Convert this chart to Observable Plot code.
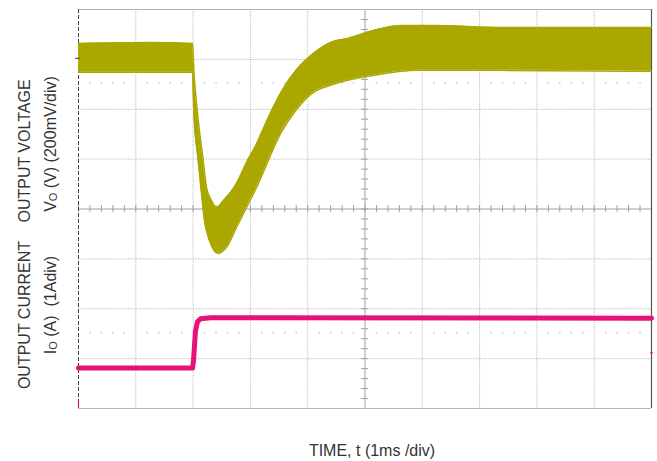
<!DOCTYPE html>
<html>
<head>
<meta charset="utf-8">
<script src="https://cdn.jsdelivr.net/npm/d3@7"></script>
<script src="https://cdn.jsdelivr.net/npm/@observablehq/plot@0.6"></script>
<style>
  html, body { margin: 0; padding: 0; background: #fff; }
  #chart { width: 657px; height: 461px; }
</style>
</head>
<body>
<div id="chart"></div>
<script>
// Time in divisions (1 ms/div), amplitude in screen divisions (-4..4)
const voltUpperTime = [0, 1.26, 1.99, 2.016, 2.072, 2.176, 2.234, 2.321, 2.408, 2.531, 2.757, 2.949, 3.106, 3.229, 3.525, 3.874, 4.101, 4.398, 4.695, 5.148, 5.62, 6.196, 7.365, 10];
const voltUpper     = [3.32, 3.34, 3.32, 2.72, 1.98, 0.97, 0.43, 0.17, 0.03, 0.17, 0.51, 0.97, 1.30, 1.62, 2.32, 2.88, 3.12, 3.34, 3.42, 3.58, 3.68, 3.68, 3.64, 3.64];
const voltLowerTime = [0, 1.26, 1.99, 2.012, 2.089, 2.147, 2.199, 2.286, 2.438, 2.583, 2.757, 2.932, 3.106, 3.229, 3.525, 3.822, 4.101, 4.398, 4.695, 5.148, 5.916, 6.6, 7.365, 10];
const voltLower     = [2.74, 2.74, 2.74, 1.98, 0.97, 0.31, -0.23, -0.63, -0.89, -0.77, -0.37, 0.03, 0.43, 0.75, 1.51, 2.02, 2.34, 2.48, 2.58, 2.68, 2.78, 2.78, 2.78, 2.76];
const currentTime   = [0, 1.99, 2.007, 2.042, 2.077, 2.129, 2.304, 10];
const currentVal    = [-3.19, -3.19, -3.04, -2.44, -2.26, -2.20, -2.18, -2.19];
const cursorLevels  = [2.53, -2.48];
const xDivs = d3.range(0, 11);
const yDivs = d3.range(-4, 5);

const voltBand = voltUpper.map((v, i) => ({x1: voltUpperTime[i], y1: v, x2: voltLowerTime[i], y2: voltLower[i]}));
const current = currentTime.map((t, i) => ({t, v: currentVal[i]}));
const minorX = d3.range(0, 51).map(k => k / 5);
const minorY = d3.range(-20, 21).map(k => k / 5);
const cursorDots = cursorLevels.flatMap(y => minorX.filter((x, k) => k % 5 !== 0).map(x => ({x, y})));

const svg = Plot.plot({
  width: 657,
  height: 461,
  marginLeft: 78,
  marginRight: 6,
  marginTop: 9,
  marginBottom: 53,
  style: {background: "#fff"},
  x: {domain: [0, 10], axis: null},
  y: {domain: [-4, 4], axis: null},
  marks: [
    Plot.ruleX(xDivs.filter(d => d > 0 && d < 10 && d !== 5), {stroke: "#c4c4c4", strokeDasharray: "1.5,1", strokeWidth: 1}),
    Plot.ruleY(yDivs.filter(d => d > -4 && d < 4 && d !== 0), {stroke: "#c4c4c4", strokeDasharray: "1.5,1", strokeWidth: 1}),
    Plot.dot(cursorDots, {x: "x", y: "y", r: 0.9, fill: "#c8c8c8", stroke: null}),
    Plot.ruleX([5], {stroke: "#a0a0a0", strokeWidth: 1}),
    Plot.ruleY([0], {stroke: "#a0a0a0", strokeWidth: 1}),
    Plot.ruleX(minorX, {y1: -0.07, y2: 0.07, stroke: "#a0a0a0", strokeWidth: 1}),
    Plot.ruleY(minorY, {x1: 4.94, x2: 5.06, stroke: "#a0a0a0", strokeWidth: 1}),
    Plot.ruleY([4, -4], {stroke: "#b5b5b5", strokeWidth: 1}),
    Plot.ruleX([0], {stroke: "#444", strokeWidth: 1, strokeDasharray: "4,2"}),
    Plot.ruleX([10], {stroke: "#555", strokeWidth: 1.2}),
    Plot.area(voltBand, {x1: "x1", y1: "y1", x2: "x2", y2: "y2", fill: "#aaa800", curve: "monotone-x"}),
    Plot.line(voltBand, {x: "x1", y: "y1", stroke: "#aaa800", strokeWidth: 1.5, curve: "monotone-x"}),
    Plot.line(voltBand, {x: "x2", y: "y2", stroke: "#aaa800", strokeWidth: 1.5, curve: "monotone-x"}),
    Plot.line(current, {x: "t", y: "v", stroke: "#e6127a", strokeWidth: 5, strokeLinejoin: "round"}),
    Plot.ruleY([3.02], {x1: -0.05, x2: 0.03, stroke: "#555", strokeWidth: 1.2}),
    Plot.ruleX([0], {y1: -3.85, y2: -4, stroke: "#e6127a", strokeWidth: 1.2}),
    Plot.dot([{x: 10, y: -2.88}], {x: "x", y: "y", r: 1.2, fill: "#e6127a", stroke: null})
  ]
});

const s = d3.select(svg);
const font = "'Liberation Sans', Arial, sans-serif";
function rotLabel(x, y, parts) {
  const t = s.append("text")
    .attr("transform", `translate(${x},${y}) rotate(-90)`)
    .attr("text-anchor", "middle")
    .attr("dominant-baseline", "central")
    .attr("font-family", font)
    .attr("font-size", 16)
    .attr("fill", "#333")
    .style("white-space", "pre");
  parts.forEach(p => {
    const ts = t.append("tspan").text(p.text);
    if (p.sub) ts.attr("font-size", 11).attr("dy", 3);
    if (p.back) ts.attr("dy", -3);
  });
}
rotLabel(24, 151, [{text: "OUTPUT VOLTAGE"}]);
rotLabel(50, 144, [{text: "V"}, {text: "O", sub: true}, {text: " (V) (200mV/div)", back: true}]);
rotLabel(24, 315, [{text: "OUTPUT CURRENT"}]);
rotLabel(50, 305, [{text: "I"}, {text: "O", sub: true}, {text: " (A)  (1Adiv)", back: true}]);
s.append("text")
  .attr("x", 372).attr("y", 450)
  .attr("text-anchor", "middle")
  .attr("dominant-baseline", "central")
  .attr("font-family", font)
  .attr("font-size", 16)
  .attr("fill", "#333")
  .text("TIME, t (1ms /div)");

document.getElementById("chart").appendChild(svg);
</script>
</body>
</html>
